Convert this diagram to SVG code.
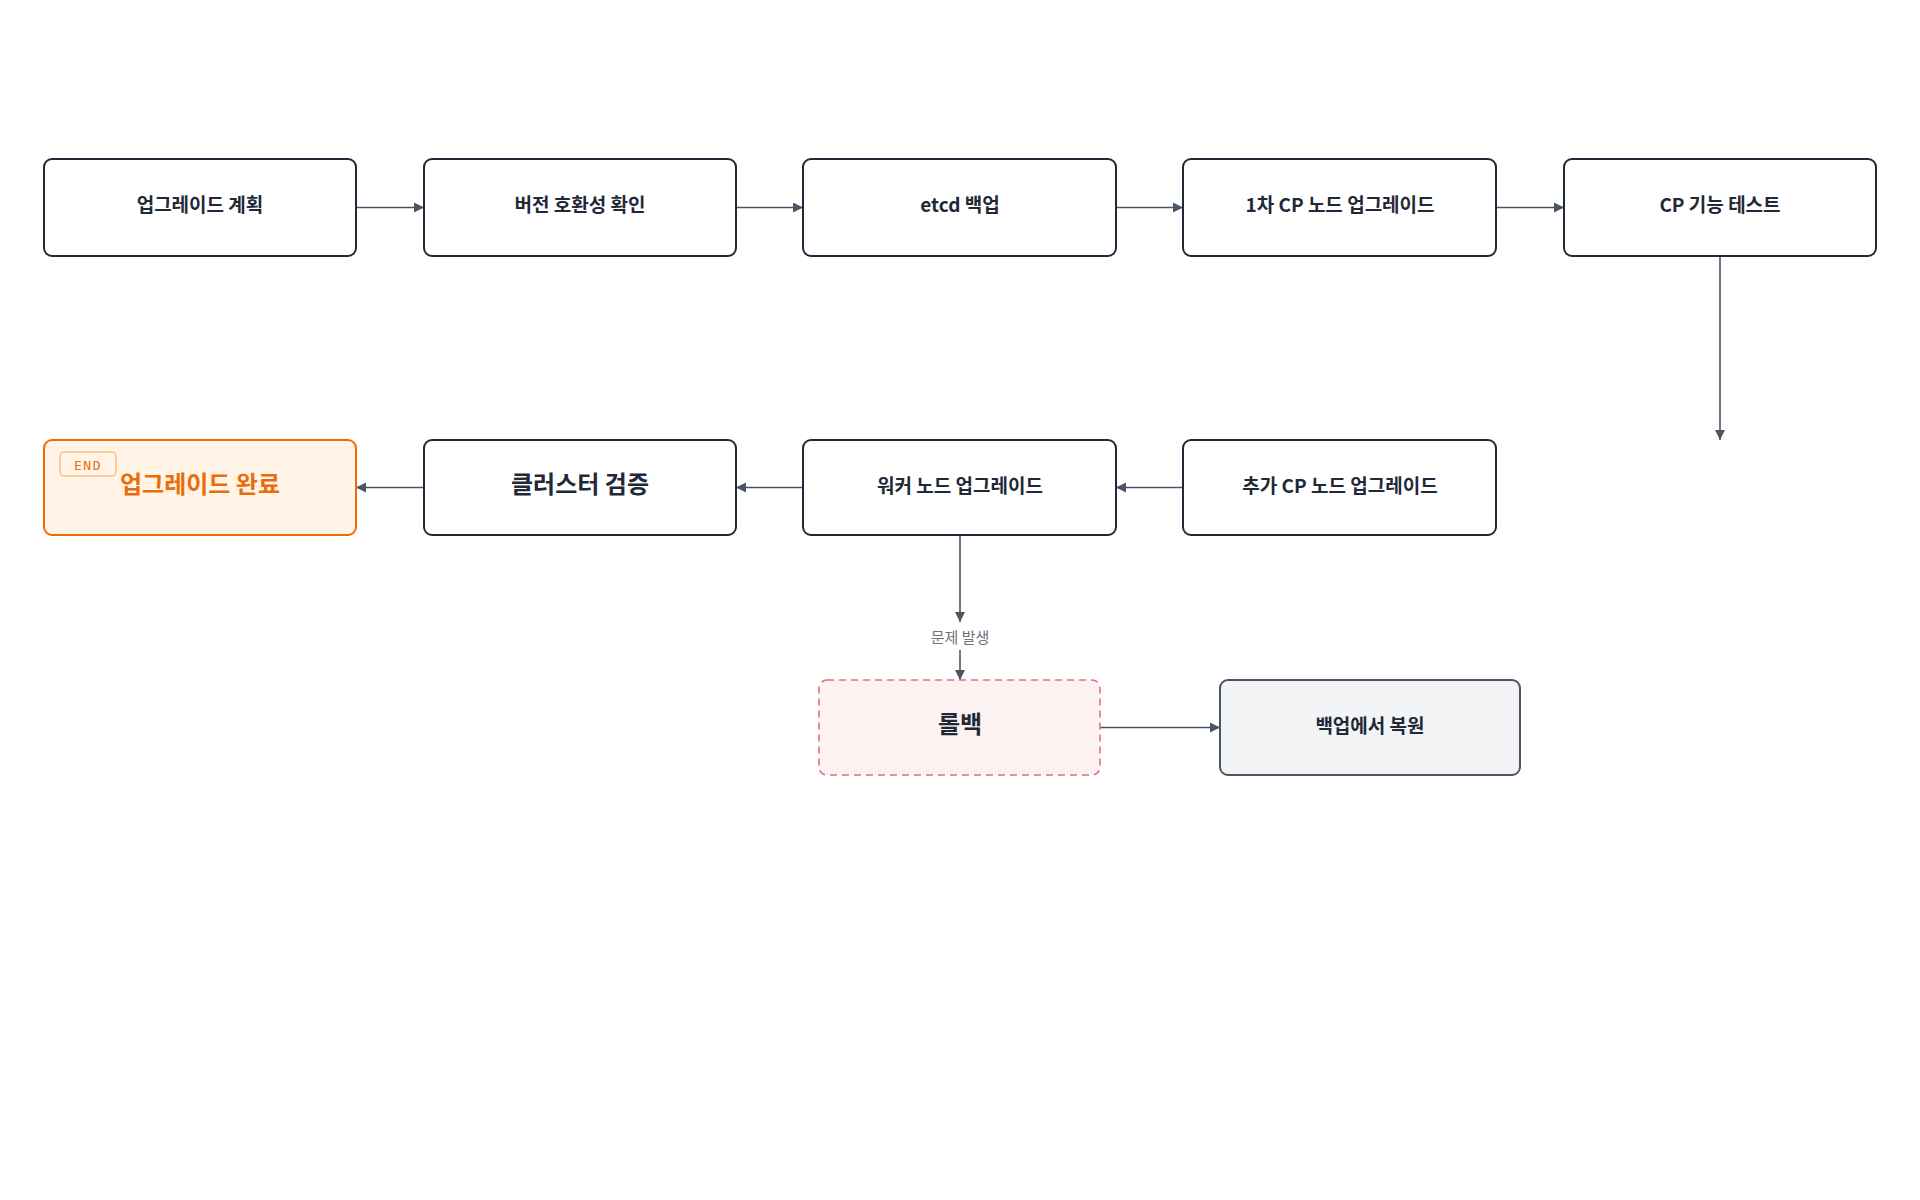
<svg xmlns="http://www.w3.org/2000/svg" width="1920" height="1200" viewBox="0 0 1920 1200">
<defs>
<marker id="ah" viewBox="0 0 10 10" refX="10" refY="5" markerWidth="10" markerHeight="10" markerUnits="userSpaceOnUse" orient="auto"><path d="M0,0 L10,5 L0,10 z" fill="#4b5563"/></marker>
<style>
.n{fill:#fff;stroke:#1f2937;stroke-width:2}
.t{font-family:"Noto Sans CJK KR","Noto Sans",sans-serif;font-weight:700;font-size:19px;fill:#1f2937;text-anchor:middle;dominant-baseline:central}
.big{font-size:24px}
.c{stroke:#4b5563;stroke-width:1.6;fill:none;marker-end:url(#ah)}
</style>
</defs>
<rect width="1920" height="1200" fill="#fff"/>
<g id="connectors">
<path class="c" d="M356,207.5 H424"/>
<path class="c" d="M736,207.5 H803"/>
<path class="c" d="M1116,207.5 H1183"/>
<path class="c" d="M1496,207.5 H1564"/>
<path class="c" d="M1720,256 V440"/>
<path class="c" d="M1183,487.5 H1116"/>
<path class="c" d="M803,487.5 H736"/>
<path class="c" d="M424,487.5 H356"/>
<path class="c" d="M960,535 V622"/>
<path class="c" d="M960,650 V680"/>
<text x="960" y="636" font-family="'Noto Sans CJK KR',sans-serif" font-size="15" fill="#6b7280" text-anchor="middle" dominant-baseline="central">문제 발생</text>
<path class="c" d="M1100,727.5 H1220"/>
</g>
<g id="n1"><rect class="n" x="44" y="159" width="312" height="97" rx="8"/><text class="t" x="200" y="203">업그레이드 계획</text></g>
<g id="n2"><rect class="n" x="424" y="159" width="312" height="97" rx="8"/><text class="t" x="580" y="203">버전 호환성 확인</text></g>
<g id="n3"><rect class="n" x="803" y="159" width="313" height="97" rx="8"/><text class="t" x="960" y="203">etcd 백업</text></g>
<g id="n4"><rect class="n" x="1183" y="159" width="313" height="97" rx="8"/><text class="t" x="1340" y="203">1차 CP 노드 업그레이드</text></g>
<g id="n5"><rect class="n" x="1564" y="159" width="312" height="97" rx="8"/><text class="t" x="1720" y="203">CP 기능 테스트</text></g>
<g id="n6"><rect class="n" x="1183" y="440" width="313" height="95" rx="8"/><text class="t" x="1340" y="484">추가 CP 노드 업그레이드</text></g>
<g id="n7"><rect class="n" x="803" y="440" width="313" height="95" rx="8"/><text class="t" x="960" y="484">워커 노드 업그레이드</text></g>
<g id="n8"><rect class="n" x="424" y="440" width="312" height="95" rx="8"/><text class="t big" x="580" y="482">클러스터 검증</text></g>
<g id="n9"><rect x="44" y="440" width="312" height="95" rx="8" fill="#fff4e5" stroke="#ea6c0c" stroke-width="2"/>
<rect x="60" y="452" width="56" height="24" rx="4" fill="none" stroke="#fbbf85" stroke-width="1.5"/>
<text x="88" y="465" font-family="'DejaVu Sans Mono',monospace" font-size="13" fill="#ea6c0c" text-anchor="middle" dominant-baseline="central" letter-spacing="1.5">END</text>
<text class="t big" x="200" y="482" style="fill:#ea6c0c">업그레이드 완료</text></g>
<g id="n10"><rect x="819" y="680" width="281" height="95" rx="8" fill="#fdf2f2" stroke="#e26d80" stroke-width="1.6" stroke-dasharray="7,5"/><text class="t big" x="960" y="722">롤백</text></g>
<g id="n11"><rect x="1220" y="680" width="300" height="95" rx="8" fill="#f3f4f6" stroke="#4b5563" stroke-width="2"/><text class="t" x="1370" y="724">백업에서 복원</text></g>
</svg>
